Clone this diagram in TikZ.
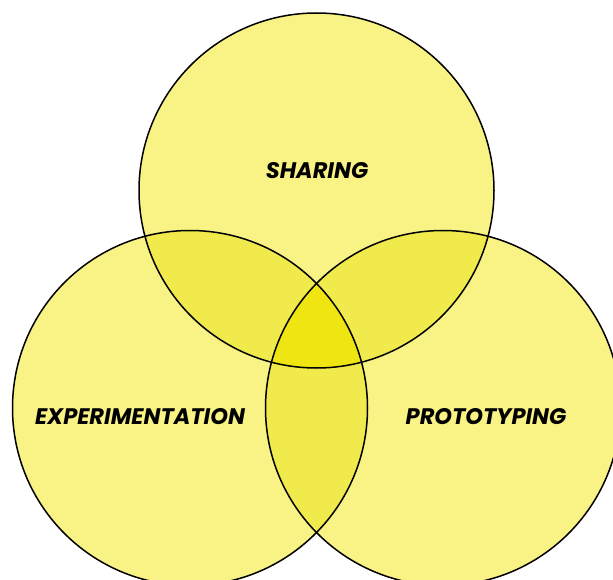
\documentclass[tikz,border=0pt]{standalone}
\usepackage{fontspec}
\setmainfont{Poppins}
\definecolor{single}{HTML}{F9F284}
\definecolor{pair}{HTML}{F0EA4C}
\definecolor{triple}{HTML}{EEE512}
\tikzset{
  venn/.style={draw=black, line width=1.5pt},
  lbl/.style={font=\fontsize{22.5}{24}\selectfont\bfseries\itshape, text=black, inner sep=0pt}
}
\begin{document}
\begin{tikzpicture}[x=1pt,y=-1pt]
\useasboundingbox (0,0) rectangle (613,580);
\begin{scope}
\clip (0,0) rectangle (613,580);
\coordinate (ct) at (316.5,190.5);
\coordinate (cl) at (190,408);
\coordinate (cr) at (443,408);
\def\R{177.5}
% base fills
\fill[single] (ct) circle (\R);
\fill[single] (cl) circle (\R);
\fill[single] (cr) circle (\R);
% pair overlaps
\begin{scope}\clip (ct) circle (\R); \fill[pair] (cl) circle (\R);\end{scope}
\begin{scope}\clip (ct) circle (\R); \fill[pair] (cr) circle (\R);\end{scope}
\begin{scope}\clip (cl) circle (\R); \fill[pair] (cr) circle (\R);\end{scope}
% triple
\begin{scope}\clip (ct) circle (\R); \clip (cl) circle (\R); \fill[triple] (cr) circle (\R);\end{scope}
% outlines
\draw[venn] (ct) circle (\R);
\draw[venn] (cl) circle (\R);
\draw[venn] (cr) circle (\R);
\end{scope}
\node[lbl] (sharing) at (317,171) {SHARING};
\node[lbl] (exp) at (140,417) {EXPERIMENTATION};
\node[lbl] (proto) at (486,417) {PROTOTYPING};
\end{tikzpicture}
\end{document}
